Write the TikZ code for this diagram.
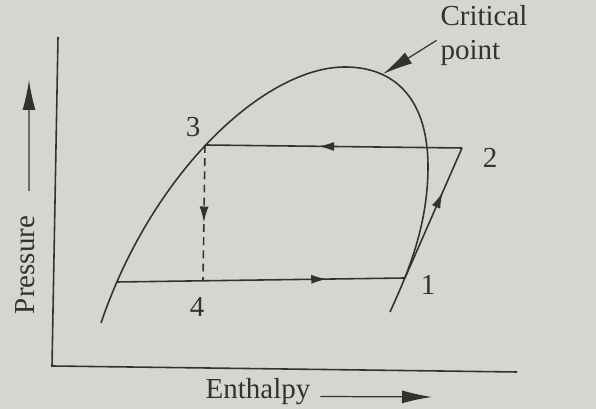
\documentclass[tikz,border=0pt]{standalone}
\usepackage{fontspec}
\setmainfont{Liberation Serif}
\usetikzlibrary{arrows.meta,decorations.markings,calc}
\definecolor{paper}{RGB}{214,214,209}
\definecolor{ink}{RGB}{50,50,50}
\tikzset{
  lbl/.style={font=\fontsize{16.5}{19}\selectfont, text=ink, inner sep=1pt},
  midarrow/.style={postaction={decorate},
    decoration={markings, mark=at position #1 with {\arrow{Latex[length=3.2mm,width=1.8mm]}}}},
  bigtip/.style={-{Latex[length=6mm,width=2.6mm]}}
}

\begin{document}
\begin{tikzpicture}[color=ink, line width=0.9pt]
        \fill[paper] (0,0) rectangle (11.92,8.18);
        \useasboundingbox (0,0) rectangle (11.92,8.18);

        % Axes
        \coordinate (ytop) at (1.16,7.44);
        \coordinate (orig) at (1.04,0.86);
        \coordinate (xend) at (10.34,0.74);
        \draw (ytop) -- (orig) -- (xend);

        \node[lbl, rotate=90] (pres) at (0.50,2.88) {Pressure};
        \coordinate (ptip) at (0.58,6.58);
        \draw[bigtip, line width=0.7pt] ([shift={(0.08,0.45)}]pres.east) -- (ptip);

        \node[lbl] (enth) at (5.16,0.34) {Enthalpy};
        \coordinate (htip) at (8.64,0.24);
        \draw[bigtip, line width=0.7pt] ([shift={(0.15,-0.09)}]enth.east) -- (htip);

        % Saturation dome
        \draw (2.02,1.72) .. controls (3.05,4.75) and (5.3,6.84) .. (6.90,6.84)
              .. controls (7.9,6.84) and (8.56,6.2) .. (8.56,4.84)
              .. controls (8.56,3.6) and (8.1,2.6) .. (7.80,1.94);

        % Cycle
        \coordinate (p1) at (8.10,2.62);
        \coordinate (p2) at (9.24,5.22);
        \coordinate (p3) at (4.10,5.28);
        \coordinate (p4) at (4.06,2.56);
        \coordinate (liq) at (2.34,2.54);

        \draw[midarrow=0.56] (p2) -- (p3);
        \draw[midarrow=0.73] (liq) -- (p1);
        \draw[midarrow=0.66] (p1) -- (p2);
        \draw[dash pattern=on 4.5pt off 3pt, midarrow=0.57] (p3) -- (p4);

        \node[lbl] (n1) at (8.56,2.48) {1};
        \node[lbl] (n2) at (9.80,5.02) {2};
        \node[lbl] (n3) at (3.86,5.64) {3};
        \node[lbl] (n4) at (3.94,2.04) {4};

        % Critical point
        \node[lbl, align=left, anchor=north west] (crit) at (8.76,8.12) {Critical\\point};
        \coordinate (cp) at (7.66,6.70);
        \draw[bigtip, line width=0.7pt] ([shift={(-0.03,-0.1)}]crit.west) -- (cp);
\end{tikzpicture}
\end{document}
